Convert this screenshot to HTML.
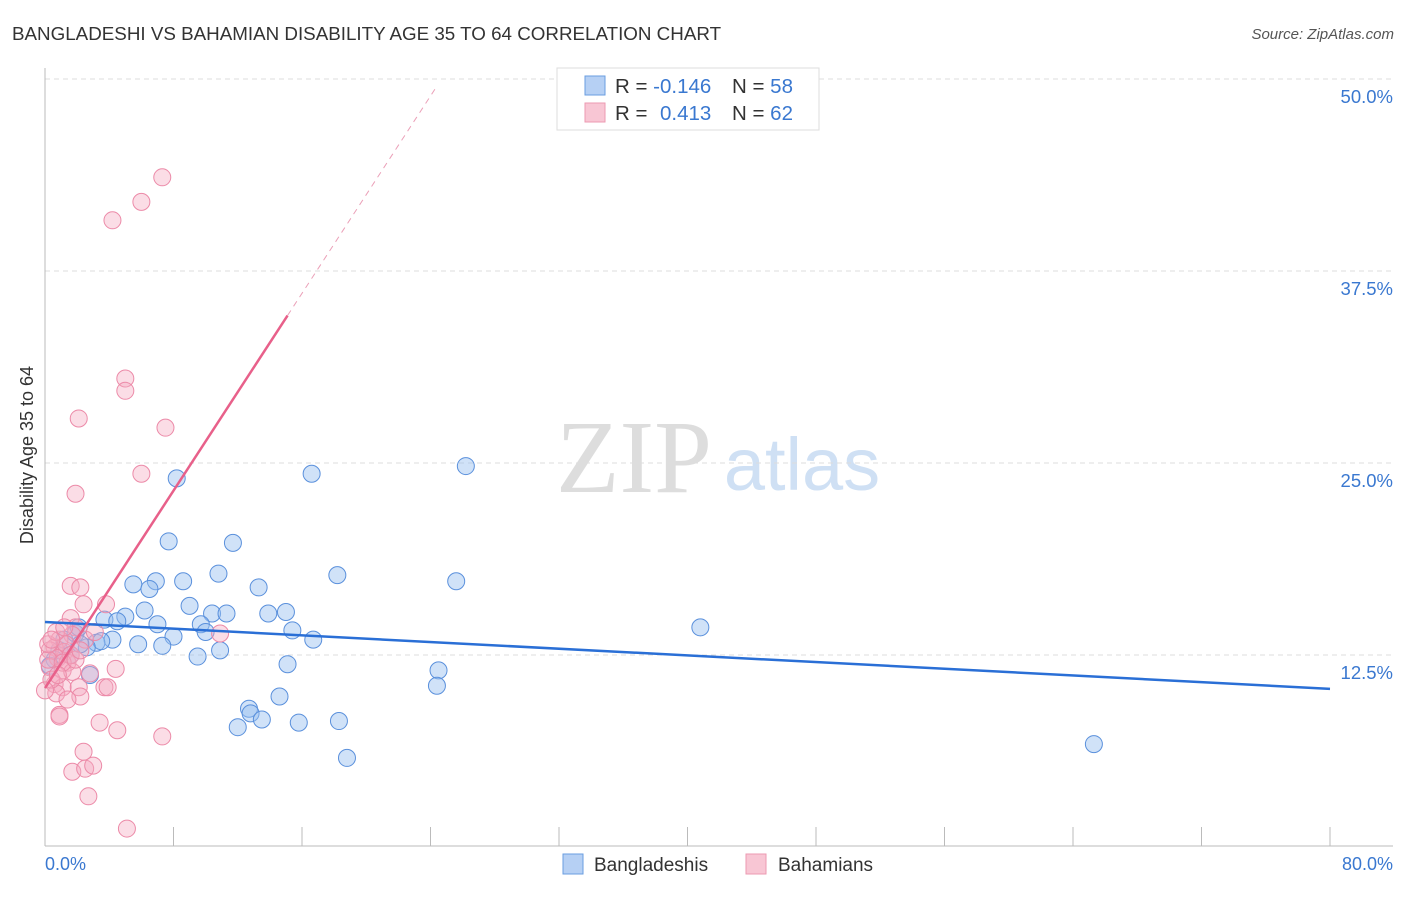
<!DOCTYPE html>
<html><head><meta charset="utf-8"><style>
body{margin:0;background:#fff;font-family:"Liberation Sans",sans-serif}
</style></head><body>
<svg width="1406" height="892" xmlns="http://www.w3.org/2000/svg">
<text x="12" y="40" font-size="18.8" fill="#333">BANGLADESHI VS BAHAMIAN DISABILITY AGE 35 TO 64 CORRELATION CHART</text>
<text x="1394" y="39" font-size="15" fill="#555" font-style="italic" text-anchor="end">Source: ZipAtlas.com</text>
<g>
<text x="634" y="492" font-size="104" fill="#ddd" font-family="Liberation Serif,serif" text-anchor="middle">ZIP</text>
<text x="802" y="490" font-size="74" fill="#cfe0f4" text-anchor="middle">atlas</text>
</g>
<g id="grid"></g>
<g id="axes"></g>
<g id="pts"></g>
<g id="lines"></g>
<text transform="translate(33,455) rotate(-90)" font-size="18" fill="#333" text-anchor="middle">Disability Age 35 to 64</text>
<text x="45" y="870" font-size="18" fill="#3a78d0">0.0%</text>
<text x="1393" y="870" font-size="18" fill="#3a78d0" text-anchor="end">80.0%</text>
<g>
<rect x="557" y="68" width="262" height="62" fill="#fff" stroke="#ddd"/>
<rect x="585" y="76" width="20" height="19" fill="#b6d0f4" stroke="#6a9ee0"/>
<rect x="585" y="103" width="20" height="19" fill="#f8c6d4" stroke="#ec9ab2"/>
<text x="615" y="93" font-size="20.5" fill="#333">R = <tspan fill="#3a78d0">-0.146</tspan></text>
<text x="732" y="93" font-size="20.5" fill="#333">N = <tspan fill="#3a78d0">58</tspan></text>
<text x="615" y="120" font-size="20.5" fill="#333">R = <tspan fill="#3a78d0" x="660">0.413</tspan></text>
<text x="732" y="120" font-size="20.5" fill="#333">N = <tspan fill="#3a78d0">62</tspan></text>
</g>
<g>
<rect x="563" y="854" width="20" height="20" fill="#b6d0f4" stroke="#6a9ee0"/>
<text x="594" y="871" font-size="19" fill="#333">Bangladeshis</text>
<rect x="746" y="854" width="20" height="20" fill="#f8c6d4" stroke="#ec9ab2"/>
<text x="778" y="871" font-size="19" fill="#333">Bahamians</text>
</g>
</svg>
<script>
const yTicks=[12.5,25,37.5,50];
const yTickLabels=["12.5%","25.0%","37.5%","50.0%"];
const xTicks=[0,8,16,24,32,40,48,56,64,72,80];
const blueX=[8.2,16.6,26.2,7.7,11.7,10.8,18.2,25.6,5.5,6.9,8.6,13.3,6.5,9.0,6.2,10.4,11.3,13.9,15.0,3.7,5.0,4.5,7.0,9.7,10.0,15.4,8.0,4.2,3.2,3.5,5.8,7.3,16.7,10.9,9.5,15.1,40.8,24.5,24.4,2.8,14.6,12.7,12.8,13.5,12.0,15.8,18.3,18.8,65.3,2.6,0.9,0.6,1.6,1.2,1.9,2.2,2.1,0.3];
const blueY=[24.0,24.3,24.8,19.9,19.8,17.8,17.7,17.3,17.1,17.3,17.3,16.9,16.8,15.7,15.4,15.2,15.2,15.2,15.3,14.8,15.0,14.7,14.5,14.5,14.0,14.1,13.7,13.5,13.3,13.4,13.2,13.1,13.5,12.8,12.4,11.9,14.3,11.5,10.5,11.2,9.8,9.0,8.7,8.3,7.8,8.1,8.2,5.8,6.7,13.0,12.8,12.2,12.5,13.5,13.9,13.2,14.3,11.8];
const pinkX=[7.3,6.0,4.2,5.0,5.0,2.1,7.5,6.0,1.9,1.6,2.2,2.4,3.8,1.6,10.9,1.9,1.7,0.9,0.6,0.3,1.2,0.8,1.4,0.3,1.1,2.8,4.4,1.7,0.6,1.1,2.1,3.7,3.9,0.7,2.2,0.9,0.9,3.4,4.5,7.3,2.4,1.7,2.5,3.0,2.7,5.1,0.4,0.2,0.2,1.3,1.6,0.7,2.5,1.1,1.9,0.8,1.2,0.4,3.1,2.2,1.4,0.0];
const pinkY=[43.6,42.0,40.8,30.5,29.7,27.9,27.3,24.3,23.0,17.0,16.9,15.8,15.8,14.9,13.9,14.3,13.8,13.5,13.0,12.8,12.7,12.3,12.0,11.7,11.5,11.3,11.6,11.4,10.6,10.4,10.4,10.4,10.4,10.0,9.8,8.6,8.5,8.1,7.6,7.2,6.2,4.9,5.1,5.3,3.3,1.2,10.9,12.2,13.2,13.2,12.5,14.0,13.5,12.0,12.2,11.2,14.3,13.5,14.0,12.8,9.6,10.2];
const blueTrend=[14.65,-0.0544];
const pinkTrend=[10.35,1.606];
const NS="http://www.w3.org/2000/svg";
const X=v=>45+v/80*1285, Y=v=>847-v/12.5*192;
function mk(t,a,p){const e=document.createElementNS(NS,t);for(const k in a)e.setAttribute(k,a[k]);document.getElementById(p).appendChild(e);return e;}
yTicks.forEach((t,i)=>{
 const g=mk('line',{x1:45,x2:1393,y1:Y(t),y2:Y(t),stroke:'#ddd','stroke-dasharray':'5,4'},'grid');
 
 
 const l=mk('text',{x:1393,y:Y(t)+24,'font-size':18.5,fill:'#3a78d0','text-anchor':'end'},'grid');
 l.textContent=yTickLabels[i];
 
 
});
const ax=mk('line',{x1:45,x2:45,y1:68,y2:846,stroke:'#bbb'},'axes');


const bx=mk('line',{x1:45,x2:1393,y1:846,y2:846,stroke:'#bbb'},'axes');


xTicks.forEach(t=>{const e=mk('line',{x1:X(t),x2:X(t),y1:827,y2:846,stroke:'#bbb'},'axes');
 
 });
blueX.forEach((v,i)=>{const c=mk('circle',{cx:X(v),cy:Y(blueY[i]),r:8.5,fill:'rgba(150,190,240,0.45)',stroke:'#5a90dc','stroke-width':1},'pts');
 
 });
pinkX.forEach((v,i)=>{const c=mk('circle',{cx:X(v),cy:Y(pinkY[i]),r:8.5,fill:'rgba(246,170,192,0.4)',stroke:'#ec8aa8','stroke-width':1},'pts');
 
 });
const b=mk('line',{x1:X(0),y1:Y(blueTrend[0]),x2:X(80),y2:Y(blueTrend[0]+80*blueTrend[1]),stroke:'#2a6fd6','stroke-width':2.5},'lines');


const p=mk('line',{x1:X(0),y1:Y(pinkTrend[0]),x2:X(15.1),y2:Y(pinkTrend[0]+15.1*pinkTrend[1]),stroke:'#e8608a','stroke-width':2.5},'lines');


const pd=mk('line',{x1:X(15.1),y1:Y(pinkTrend[0]+15.1*pinkTrend[1]),x2:X(24.3),y2:Y(pinkTrend[0]+24.3*pinkTrend[1]),stroke:'#eba0b8','stroke-width':1,'stroke-dasharray':'6,5'},'lines');


</script>
</body></html>
